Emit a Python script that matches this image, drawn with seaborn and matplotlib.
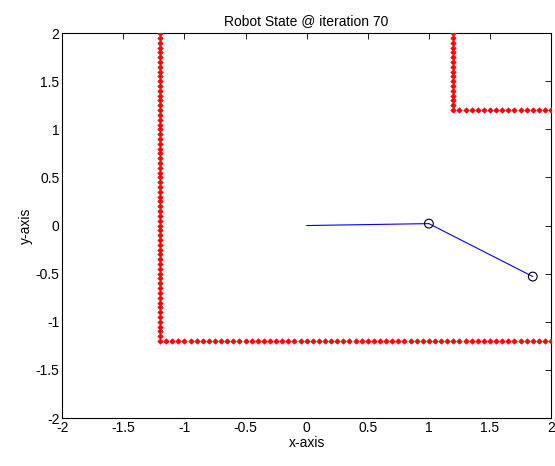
import matplotlib
matplotlib.use("Agg")
import matplotlib.pyplot as plt
import seaborn as sns
import numpy as np
import pandas as pd

# wall points (obstacle boundary), sampled every 0.05
step = 0.05
w1_vert_y = np.round(np.arange(2.0, -1.2 - 1e-9, -step), 2)
w1_horz_x = np.round(np.arange(-1.2 + step, 2.0 + 1e-9, step), 2)
wall1_x = [-1.2] * len(w1_vert_y) + list(w1_horz_x)
wall1_y = list(w1_vert_y) + [-1.2] * len(w1_horz_x)

w2_vert_y = np.round(np.arange(2.0, 1.2 - 1e-9, -step), 2)
w2_horz_x = np.round(np.arange(1.2 + step, 2.0 + 1e-9, step), 2)
wall2_x = [1.2] * len(w2_vert_y) + list(w2_horz_x)
wall2_y = list(w2_vert_y) + [1.2] * len(w2_horz_x)

# robot arm
arm_x = [0, 1.0, 1.85]
arm_y = [0, 0.02, -0.53]
joint_x = [1.0, 1.85]
joint_y = [0.02, -0.53]

sns.set_style("white")
plt.rcParams['font.family'] = ['Liberation Sans', 'DejaVu Sans']
plt.rcParams['text.color'] = 'black'
plt.rcParams['axes.labelcolor'] = 'black'

fig = plt.figure(figsize=(5.55, 4.66), dpi=100)
ax = fig.add_axes([0.112, 0.103, 0.881, 0.826])

walls = pd.DataFrame({'x': wall1_x + wall2_x, 'y': wall1_y + wall2_y})
sns.scatterplot(data=walls, x='x', y='y', marker='D', s=7, color='red',
                edgecolor='red', linewidth=0.6, ax=ax, zorder=3)

arm = pd.DataFrame({'x': arm_x, 'y': arm_y})
sns.lineplot(data=arm, x='x', y='y', sort=False, color='blue', linewidth=0.8,
             estimator=None, ax=ax)
ax.scatter(joint_x, joint_y, s=40, facecolors='none', edgecolors='black',
           linewidths=0.8, zorder=4)

ax.set_xlim(-2, 2)
ax.set_ylim(-2, 2)
ax.set_xticks(np.arange(-2, 2.01, 0.5))
ax.set_yticks(np.arange(-2, 2.01, 0.5))
ax.set_xticklabels(['-2', '-1.5', '-1', '-0.5', '0', '0.5', '1', '1.5', '2'])
ax.set_yticklabels(['-2', '-1.5', '-1', '-0.5', '0', '0.5', '1', '1.5', '2'])
ax.tick_params(direction='in', length=4, top=True, right=True, labelsize=10,
               width=0.6, colors='black', pad=2)
for sp in ax.spines.values():
    sp.set_color('black')
    sp.set_linewidth(0.8)

ax.set_title('Robot State @ iteration 70', fontsize=10, color='black')
ax.set_xlabel('x-axis', fontsize=10, labelpad=1)
ax.set_ylabel('y-axis', fontsize=10, labelpad=2)

fig.savefig('out.png', dpi=100)
